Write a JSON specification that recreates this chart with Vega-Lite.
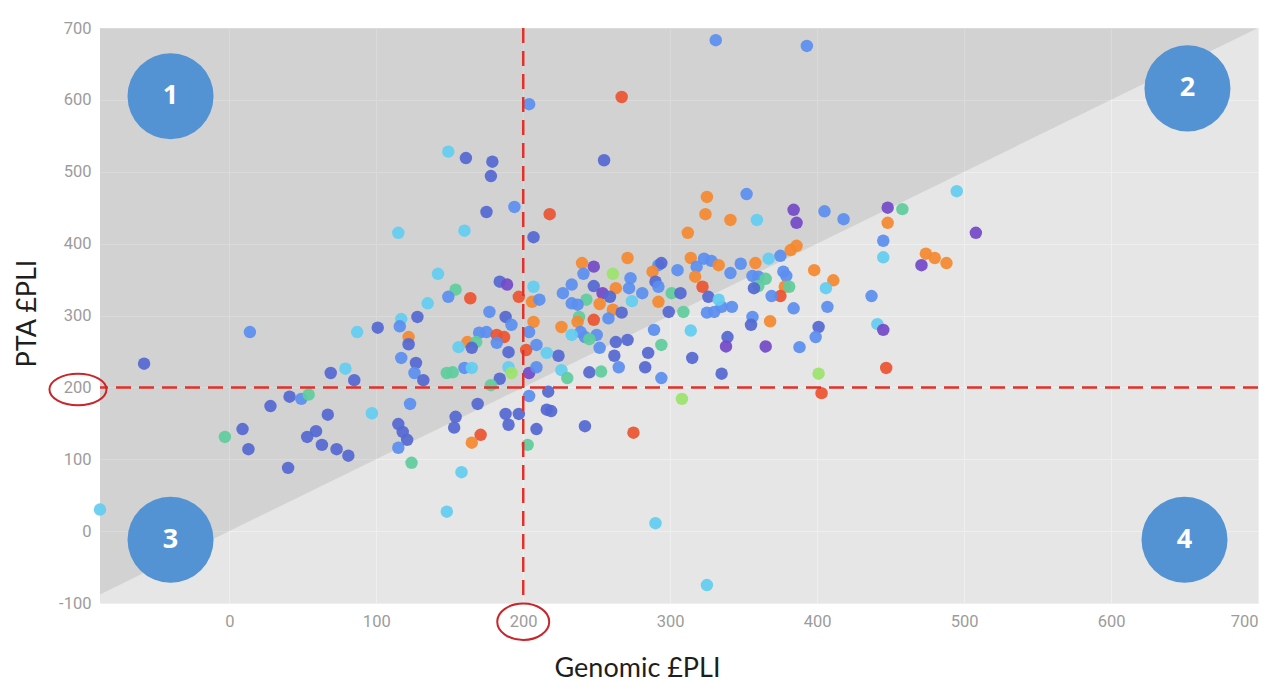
{
  "$schema": "https://vega.github.io/schema/vega-lite/v6.json",
  "description": "PTA PLI against genomic PLI, with quadrant markers",
  "autosize": "none",
  "padding": {"left": 100, "top": 28, "right": 16, "bottom": 81},
  "width": 1158,
  "height": 575,
  "background": "white",
  "config": {
    "view": {"stroke": null, "fill": "#e6e6e6"},
    "axis": {
      "domain": false,
      "ticks": false,
      "grid": true,
      "gridColor": "#efefef",
      "gridWidth": 1,
      "labelFont": "Roboto",
      "labelFontSize": 16.5,
      "labelColor": "#9c9c9c",
      "labelExpr": "'' + datum.value",
      "titleFont": "Lato",
      "titleFontSize": 27,
      "titleFontWeight": "normal",
      "titleColor": "#1e1e1e",
      "titleBaseline": "alphabetic"
    }
  },
  "layer": [
    {
      "data": {"values": [{"x": -88, "y": -88}, {"x": 700, "y": 700}]},
      "mark": {"type": "area", "color": "#000000", "opacity": 0.085},
      "encoding": {
        "x": {
          "field": "x", "type": "quantitative",
          "scale": {"domain": [-88, 700], "nice": false, "zero": false},
          "axis": {"values": [0, 100, 200, 300, 400, 500, 600, 700], "title": "Genomic £PLI", "labelPadding": 10, "titleX": 537, "titleY": 73}
        },
        "y": {
          "field": "y", "type": "quantitative",
          "scale": {"domain": [-100, 700], "nice": false, "zero": false},
          "axis": {"values": [-100, 0, 100, 200, 300, 400, 500, 600, 700], "title": "PTA £PLI", "labelPadding": 9, "titleX": -65, "titleY": 285}
        },
        "y2": {"datum": 700}
      }
    },
    {
      "data": {"values": [
        {"x": -58, "y": 233, "c": "D"}, {"x": 14, "y": 277, "c": "B"}, {"x": 9, "y": 142, "c": "D"}, {"x": -3, "y": 131, "c": "T"},
        {"x": 13, "y": 114, "c": "D"}, {"x": 28, "y": 174, "c": "D"}, {"x": 40, "y": 88, "c": "D"}, {"x": 41, "y": 187, "c": "D"},
        {"x": 49, "y": 184, "c": "B"}, {"x": 54, "y": 190, "c": "T"}, {"x": 59, "y": 139, "c": "D"}, {"x": 53, "y": 131, "c": "D"},
        {"x": 63, "y": 120, "c": "D"}, {"x": 73, "y": 114, "c": "D"}, {"x": 81, "y": 105, "c": "D"}, {"x": 67, "y": 162, "c": "D"},
        {"x": 69, "y": 220, "c": "D"}, {"x": 79, "y": 226, "c": "C"}, {"x": 85, "y": 210, "c": "D"}, {"x": 87, "y": 277, "c": "C"},
        {"x": 101, "y": 283, "c": "D"}, {"x": 97, "y": 164, "c": "C"}, {"x": 115, "y": 415, "c": "C"}, {"x": 117, "y": 295, "c": "C"},
        {"x": 116, "y": 285, "c": "B"}, {"x": 128, "y": 298, "c": "D"}, {"x": 122, "y": 270, "c": "O"}, {"x": 122, "y": 260, "c": "D"},
        {"x": 117, "y": 241, "c": "B"}, {"x": 127, "y": 234, "c": "D"}, {"x": 126, "y": 220, "c": "B"}, {"x": 123, "y": 177, "c": "B"},
        {"x": 115, "y": 149, "c": "D"}, {"x": 118, "y": 138, "c": "D"}, {"x": 121, "y": 127, "c": "D"}, {"x": 115, "y": 116, "c": "B"},
        {"x": 124, "y": 95, "c": "T"}, {"x": -88, "y": 30, "c": "C"}, {"x": 142, "y": 358, "c": "C"}, {"x": 184, "y": 347, "c": "D"},
        {"x": 189, "y": 343, "c": "P"}, {"x": 154, "y": 336, "c": "T"}, {"x": 149, "y": 326, "c": "B"}, {"x": 164, "y": 324, "c": "R"},
        {"x": 135, "y": 317, "c": "C"}, {"x": 197, "y": 326, "c": "R"}, {"x": 206, "y": 319, "c": "O"}, {"x": 177, "y": 305, "c": "B"},
        {"x": 188, "y": 298, "c": "D"}, {"x": 192, "y": 287, "c": "B"}, {"x": 207, "y": 291, "c": "O"}, {"x": 204, "y": 277, "c": "B"},
        {"x": 170, "y": 276, "c": "B"}, {"x": 175, "y": 277, "c": "B"}, {"x": 182, "y": 273, "c": "R"}, {"x": 187, "y": 270, "c": "R"},
        {"x": 162, "y": 263, "c": "O"}, {"x": 168, "y": 263, "c": "T"}, {"x": 156, "y": 256, "c": "C"}, {"x": 165, "y": 255, "c": "D"},
        {"x": 182, "y": 262, "c": "B"}, {"x": 190, "y": 249, "c": "D"}, {"x": 202, "y": 252, "c": "R"}, {"x": 209, "y": 259, "c": "B"},
        {"x": 132, "y": 210, "c": "D"}, {"x": 148, "y": 220, "c": "T"}, {"x": 152, "y": 221, "c": "T"}, {"x": 160, "y": 227, "c": "B"},
        {"x": 165, "y": 227, "c": "C"}, {"x": 190, "y": 228, "c": "C"}, {"x": 192, "y": 220, "c": "G"}, {"x": 184, "y": 212, "c": "D"},
        {"x": 178, "y": 203, "c": "T"}, {"x": 204, "y": 220, "c": "P"}, {"x": 209, "y": 228, "c": "B"}, {"x": 204, "y": 188, "c": "B"},
        {"x": 169, "y": 177, "c": "D"}, {"x": 188, "y": 163, "c": "D"}, {"x": 197, "y": 163, "c": "D"}, {"x": 190, "y": 148, "c": "D"},
        {"x": 154, "y": 159, "c": "D"}, {"x": 153, "y": 144, "c": "D"}, {"x": 171, "y": 134, "c": "R"}, {"x": 165, "y": 123, "c": "O"},
        {"x": 209, "y": 142, "c": "D"}, {"x": 203, "y": 120, "c": "T"}, {"x": 149, "y": 528, "c": "C"}, {"x": 161, "y": 519, "c": "D"},
        {"x": 179, "y": 514, "c": "D"}, {"x": 178, "y": 494, "c": "D"}, {"x": 255, "y": 516, "c": "D"}, {"x": 175, "y": 444, "c": "D"},
        {"x": 194, "y": 451, "c": "B"}, {"x": 218, "y": 441, "c": "R"}, {"x": 160, "y": 418, "c": "C"}, {"x": 207, "y": 409, "c": "D"},
        {"x": 207, "y": 340, "c": "C"}, {"x": 211, "y": 322, "c": "B"}, {"x": 240, "y": 373, "c": "O"}, {"x": 248, "y": 368, "c": "P"},
        {"x": 241, "y": 358, "c": "B"}, {"x": 261, "y": 358, "c": "G"}, {"x": 271, "y": 380, "c": "O"}, {"x": 233, "y": 343, "c": "B"},
        {"x": 227, "y": 331, "c": "B"}, {"x": 248, "y": 341, "c": "D"}, {"x": 254, "y": 331, "c": "P"}, {"x": 263, "y": 338, "c": "O"},
        {"x": 259, "y": 326, "c": "D"}, {"x": 273, "y": 352, "c": "B"}, {"x": 272, "y": 338, "c": "B"}, {"x": 281, "y": 331, "c": "B"},
        {"x": 243, "y": 322, "c": "T"}, {"x": 233, "y": 317, "c": "B"}, {"x": 237, "y": 315, "c": "B"}, {"x": 252, "y": 316, "c": "O"},
        {"x": 261, "y": 308, "c": "O"}, {"x": 267, "y": 304, "c": "D"}, {"x": 258, "y": 296, "c": "B"}, {"x": 274, "y": 320, "c": "C"},
        {"x": 248, "y": 294, "c": "R"}, {"x": 238, "y": 298, "c": "T"}, {"x": 237, "y": 291, "c": "O"}, {"x": 226, "y": 284, "c": "O"},
        {"x": 239, "y": 277, "c": "B"}, {"x": 242, "y": 270, "c": "B"}, {"x": 250, "y": 273, "c": "B"}, {"x": 263, "y": 263, "c": "D"},
        {"x": 271, "y": 266, "c": "D"}, {"x": 312, "y": 415, "c": "O"}, {"x": 314, "y": 380, "c": "O"}, {"x": 292, "y": 370, "c": "B"},
        {"x": 294, "y": 373, "c": "D"}, {"x": 288, "y": 361, "c": "O"}, {"x": 305, "y": 363, "c": "B"}, {"x": 318, "y": 368, "c": "B"},
        {"x": 290, "y": 347, "c": "D"}, {"x": 292, "y": 340, "c": "B"}, {"x": 317, "y": 354, "c": "O"}, {"x": 301, "y": 331, "c": "T"},
        {"x": 307, "y": 331, "c": "D"}, {"x": 292, "y": 319, "c": "O"}, {"x": 299, "y": 305, "c": "D"}, {"x": 309, "y": 305, "c": "T"},
        {"x": 289, "y": 280, "c": "B"}, {"x": 314, "y": 279, "c": "C"}, {"x": 294, "y": 259, "c": "T"}, {"x": 224, "y": 244, "c": "D"},
        {"x": 216, "y": 248, "c": "C"}, {"x": 233, "y": 273, "c": "C"}, {"x": 245, "y": 267, "c": "T"}, {"x": 252, "y": 255, "c": "B"},
        {"x": 262, "y": 244, "c": "D"}, {"x": 265, "y": 228, "c": "B"}, {"x": 285, "y": 248, "c": "D"}, {"x": 283, "y": 228, "c": "D"},
        {"x": 294, "y": 213, "c": "B"}, {"x": 315, "y": 241, "c": "D"}, {"x": 245, "y": 221, "c": "D"}, {"x": 253, "y": 222, "c": "T"},
        {"x": 226, "y": 224, "c": "C"}, {"x": 230, "y": 213, "c": "T"}, {"x": 217, "y": 194, "c": "D"}, {"x": 308, "y": 184, "c": "G"},
        {"x": 216, "y": 169, "c": "D"}, {"x": 219, "y": 167, "c": "D"}, {"x": 242, "y": 146, "c": "D"}, {"x": 275, "y": 137, "c": "R"},
        {"x": 158, "y": 82, "c": "C"}, {"x": 148, "y": 27, "c": "C"}, {"x": 290, "y": 11, "c": "C"}, {"x": 325, "y": 465, "c": "O"},
        {"x": 324, "y": 441, "c": "O"}, {"x": 352, "y": 469, "c": "B"}, {"x": 341, "y": 433, "c": "O"}, {"x": 359, "y": 433, "c": "C"},
        {"x": 384, "y": 447, "c": "P"}, {"x": 386, "y": 429, "c": "P"}, {"x": 405, "y": 445, "c": "B"}, {"x": 418, "y": 434, "c": "B"},
        {"x": 448, "y": 450, "c": "P"}, {"x": 458, "y": 448, "c": "T"}, {"x": 448, "y": 429, "c": "O"}, {"x": 495, "y": 473, "c": "C"},
        {"x": 508, "y": 415, "c": "P"}, {"x": 445, "y": 404, "c": "B"}, {"x": 445, "y": 381, "c": "C"}, {"x": 474, "y": 386, "c": "O"},
        {"x": 480, "y": 380, "c": "O"}, {"x": 488, "y": 373, "c": "O"}, {"x": 471, "y": 370, "c": "P"}, {"x": 323, "y": 379, "c": "B"},
        {"x": 328, "y": 376, "c": "B"}, {"x": 333, "y": 370, "c": "O"}, {"x": 341, "y": 359, "c": "B"}, {"x": 348, "y": 372, "c": "B"},
        {"x": 358, "y": 373, "c": "O"}, {"x": 367, "y": 379, "c": "C"}, {"x": 375, "y": 383, "c": "B"}, {"x": 382, "y": 391, "c": "O"},
        {"x": 386, "y": 397, "c": "O"}, {"x": 356, "y": 355, "c": "B"}, {"x": 360, "y": 354, "c": "B"}, {"x": 365, "y": 351, "c": "T"},
        {"x": 377, "y": 361, "c": "B"}, {"x": 379, "y": 355, "c": "B"}, {"x": 360, "y": 341, "c": "T"}, {"x": 357, "y": 338, "c": "D"},
        {"x": 378, "y": 340, "c": "O"}, {"x": 381, "y": 340, "c": "T"}, {"x": 375, "y": 327, "c": "R"}, {"x": 369, "y": 327, "c": "B"},
        {"x": 398, "y": 363, "c": "O"}, {"x": 411, "y": 349, "c": "O"}, {"x": 406, "y": 338, "c": "C"}, {"x": 322, "y": 340, "c": "R"},
        {"x": 326, "y": 326, "c": "D"}, {"x": 325, "y": 304, "c": "B"}, {"x": 330, "y": 305, "c": "B"}, {"x": 335, "y": 312, "c": "B"},
        {"x": 342, "y": 312, "c": "B"}, {"x": 333, "y": 322, "c": "C"}, {"x": 384, "y": 310, "c": "B"}, {"x": 407, "y": 312, "c": "B"},
        {"x": 437, "y": 327, "c": "B"}, {"x": 356, "y": 298, "c": "B"}, {"x": 355, "y": 287, "c": "D"}, {"x": 368, "y": 292, "c": "O"},
        {"x": 339, "y": 270, "c": "D"}, {"x": 338, "y": 257, "c": "P"}, {"x": 365, "y": 257, "c": "P"}, {"x": 388, "y": 256, "c": "B"},
        {"x": 401, "y": 284, "c": "D"}, {"x": 399, "y": 270, "c": "B"}, {"x": 441, "y": 288, "c": "C"}, {"x": 445, "y": 280, "c": "P"},
        {"x": 335, "y": 219, "c": "D"}, {"x": 401, "y": 219, "c": "G"}, {"x": 447, "y": 227, "c": "R"}, {"x": 403, "y": 192, "c": "R"},
        {"x": 331, "y": 683, "c": "B"}, {"x": 393, "y": 675, "c": "B"}, {"x": 204, "y": 594, "c": "B"}, {"x": 267, "y": 604, "c": "R"},
        {"x": 325, "y": -75, "c": "C"}
      ]},
      "mark": {"type": "circle", "size": 155, "opacity": 0.92},
      "encoding": {
        "x": {"field": "x", "type": "quantitative"},
        "y": {"field": "y", "type": "quantitative"},
        "color": {
          "field": "c", "type": "nominal", "legend": null,
          "scale": {
            "domain": ["D", "B", "C", "O", "R", "P", "T", "G"],
            "range": ["#5468d2", "#5a8ef0", "#62cdf1", "#f5892f", "#ec5230", "#7449c8", "#5ecd9c", "#9be36a"]
          }
        }
      }
    },
    {
      "data": {"values": [{"v": 200}]},
      "mark": {"type": "rule", "color": "#e2302b", "strokeWidth": 2.5, "strokeDash": [15, 8]},
      "encoding": {"x": {"field": "v", "type": "quantitative"}}
    },
    {
      "data": {"values": [{"v": 200}]},
      "mark": {"type": "rule", "color": "#e2302b", "strokeWidth": 2.5, "strokeDash": [15, 8]},
      "encoding": {"y": {"field": "v", "type": "quantitative"}}
    },
    {
      "data": {"values": [{"x": -103, "y": 197, "w": 3249, "s": "M-1,0A1,0.55 0 1,1 1,0A1,0.55 0 1,1 -1,0Z"}, {"x": 200, "y": -126, "w": 2704, "s": "M-1,0A1,0.7 0 1,1 1,0A1,0.7 0 1,1 -1,0Z"}]},
      "mark": {"type": "point", "filled": false, "color": "#c9252b", "strokeWidth": 2, "opacity": 1, "clip": false},
      "encoding": {
        "x": {"field": "x", "type": "quantitative"},
        "y": {"field": "y", "type": "quantitative"},
        "shape": {"field": "s", "type": "nominal", "scale": null},
        "size": {"field": "w", "type": "quantitative", "scale": null}
      }
    },
    {
      "data": {"values": [
        {"n": "1", "x": -40, "y": 605},
        {"n": "2", "x": 652, "y": 616},
        {"n": "3", "x": -40, "y": -12},
        {"n": "4", "x": 650, "y": -12}
      ]},
      "layer": [
        {
          "mark": {"type": "circle", "size": 7400, "color": "#5393d4", "opacity": 1},
          "encoding": {
            "x": {"field": "x", "type": "quantitative"},
            "y": {"field": "y", "type": "quantitative"}
          }
        },
        {
          "mark": {"type": "text", "color": "white", "font": "Open Sans", "fontSize": 27, "fontWeight": "bold", "baseline": "middle", "align": "center"},
          "encoding": {
            "x": {"field": "x", "type": "quantitative"},
            "y": {"field": "y", "type": "quantitative"},
            "text": {"field": "n"}
          }
        }
      ]
    }
  ]
}
